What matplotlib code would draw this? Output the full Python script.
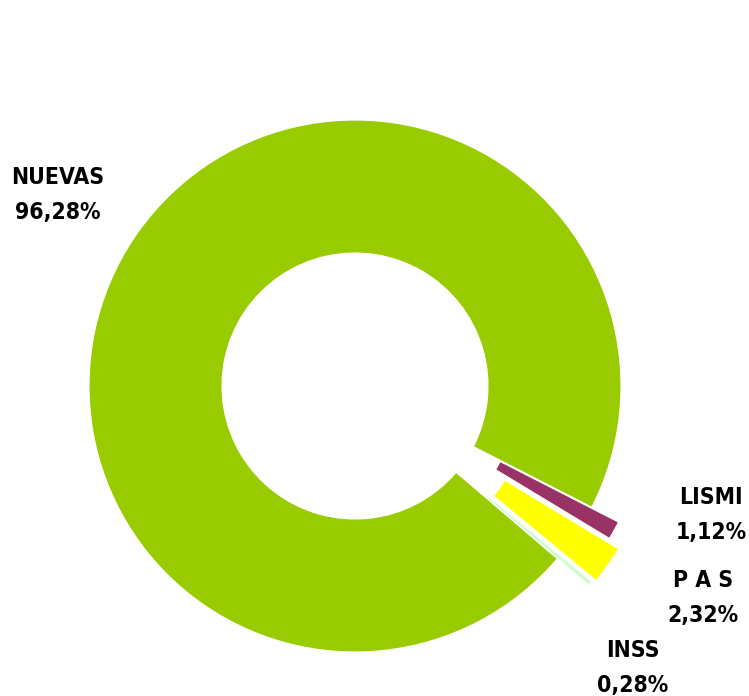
import matplotlib
matplotlib.use('Agg')
import matplotlib.pyplot as plt

# data
labels = ['LISMI', 'P A S', 'INSS', 'NUEVAS']
shares = [1.12, 2.32, 0.28, 96.28]
colors = ['#993366', '#FFFF00', '#CCFFCC', '#99CC00']
explode = [0.115, 0.165, 0.155, 0.0]

# label anchor positions (pixels from top-left of the image)
label_px = [(711, 515), (703, 598), (633, 668), (58, 195)]

W, H = 749, 696
cx, cy, R = 355, 386, 266

fig = plt.figure(figsize=(W / 100, H / 100), dpi=100)
ax = fig.add_axes([0, 0, 1, 1])
ax.pie(shares, colors=colors, explode=explode, startangle=-27.1,
       counterclock=False, radius=1.0,
       wedgeprops=dict(width=0.5, edgecolor='white', linewidth=0.8))
ax.set_xlim(-cx / R, (W - cx) / R)
ax.set_ylim(-(H - cy) / R, cy / R)
ax.set_aspect('equal')
ax.axis('off')

for lab, val, (px, py) in zip(labels, shares, label_px):
    txt = lab + '\n' + f'{val:.2f}'.replace('.', ',') + '%'
    fig.text(px / W, 1 - py / H, txt, ha='center', va='center',
             fontsize=16.5, fontweight='bold', fontstretch='condensed',
             linespacing=1.65, family='DejaVu Sans')

fig.savefig('out.png', dpi=100, facecolor='white')
